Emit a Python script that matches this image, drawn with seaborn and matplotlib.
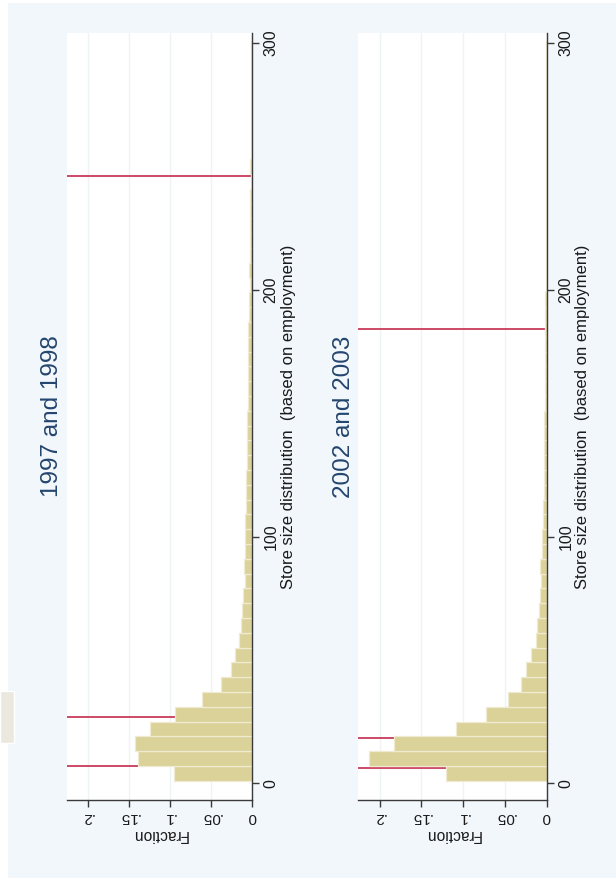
import numpy as np
import pandas as pd
import matplotlib
matplotlib.use("Agg")
import matplotlib.pyplot as plt
import seaborn as sns
from matplotlib.patches import Rectangle

# ---- data -------------------------------------------------------------
# Store-size histogram: bins of 6 employees starting at 1
bin_start = 1
bin_width = 6

frac_1997_98 = [0.095, 0.139, 0.142, 0.124, 0.094, 0.061, 0.037, 0.025, 0.020, 0.015,
                0.0135, 0.0115, 0.011, 0.008, 0.0095, 0.008, 0.008, 0.008, 0.007, 0.007,
                0.0065, 0.006, 0.006, 0.0055, 0.006, 0.005, 0.005, 0.0045, 0.005, 0.0045,
                0.004, 0.003, 0.003, 0.0025, 0.003, 0.0025, 0.002, 0.002, 0.0015, 0.0015,
                0.001, 0.0015, 0.001, 0.001, 0.001, 0.0008, 0.001, 0.0008, 0.0008, 0.001]

frac_2002_03 = [0.121, 0.2125, 0.183, 0.109, 0.073, 0.046, 0.030, 0.024, 0.018, 0.0123,
                0.011, 0.009, 0.0078, 0.007, 0.0078, 0.0057, 0.005, 0.0037, 0.0037, 0.0035,
                0.003, 0.003, 0.0028, 0.0025, 0.0025, 0.002, 0.002, 0.0022, 0.0018, 0.0015,
                0.0015, 0.0012, 0.0012, 0.001, 0.001, 0.0008, 0.0008, 0.0007, 0.0007, 0.0006,
                0.0005, 0.0005, 0.0004, 0.0004, 0.0003, 0.0003, 0.0003, 0.0002, 0.0002, 0.0003]

# reference lines (store size)
marks_1997_98 = [7, 27, 246]
marks_2002_03 = [6, 18.5, 184]

panel_titles = ["1997 and 1998", "2002 and 2003"]
size_ticks = [0, 100, 200, 300]
frac_ticks = [0, 0.05, 0.1, 0.15, 0.2]
frac_tick_labels = ["0", ".05", ".1", ".15", ".2"]
size_label = "Store size distribution  (based on employment)"
frac_label = "Fraction"

# ---- style ------------------------------------------------------------
sns.set_style("white")
plt.rcParams["font.family"] = ["Liberation Sans", "DejaVu Sans"]

BAR = "#dbd29a"
BAR_EDGE = "#f0ebd0"
RED = "#c93a5c"
AXIS = "#3a3a3a"
TITLE = "#24456e"
REGION = "#f1f7fb"

W, H = 616, 882
fig = plt.figure(figsize=(W / 100, H / 100), dpi=100)
fig.patch.set_facecolor("white")

# graph region
fig.patches.append(Rectangle((8.3 / W, 1 - 878 / H), 1 - 8.3 / W, 875 / H,
                             transform=fig.transFigure, facecolor=REGION,
                             edgecolor="none", zorder=-10))
fig.patches.append(Rectangle((0, 1 - 743 / H), 14 / W, 52 / H,
                             transform=fig.transFigure, facecolor="#ebe8de",
                             edgecolor="white", linewidth=1, zorder=-9))

panels = [
    (frac_1997_98, marks_1997_98, panel_titles[0], 66.7, 251.7, 52),
    (frac_2002_03, marks_2002_03, panel_titles[1], 358.3, 546.5, 343.5),
]

top_px, bot_px = 33.3, 800.0

for fracs, marks, title, x0, x1, tx in panels:
    ax = fig.add_axes([x0 / W, 1 - bot_px / H, (x1 - x0) / W, (bot_px - top_px) / H])
    ax.set_facecolor("white")
    n = len(fracs)
    df = pd.DataFrame({"size": bin_start + bin_width * (np.arange(n) + 0.5),
                       "frac": fracs})
    sns.histplot(data=df, y="size", weights="frac", binwidth=bin_width,
                 binrange=(bin_start, bin_start + bin_width * n), stat="count", ax=ax,
                 color=BAR, edgecolor=BAR_EDGE, linewidth=0.9, alpha=1)
    for m in marks:
        ax.axhline(m, color=RED, lw=1.3, zorder=0.8)

    ax.set_xlim(0.2256, 0)
    ax.set_ylim(-6.8, 304)
    ax.set_axisbelow(True)
    ax.grid(axis="x", color="#eef3f4", lw=1)
    ax.grid(axis="y", visible=False)

    for s in ("left", "top"):
        ax.spines[s].set_visible(False)
    for s in ("right", "bottom"):
        ax.spines[s].set_color(AXIS)
        ax.spines[s].set_linewidth(1.0)

    ax.yaxis.tick_right()
    ax.yaxis.set_label_position("right")
    ax.set_yticks(size_ticks)
    ax.set_yticklabels([str(v) for v in size_ticks])
    ax.set_xticks(frac_ticks)
    ax.set_xticklabels(frac_tick_labels)
    ax.tick_params(axis="both", direction="out", length=5, width=1, color=AXIS,
                   labelcolor="#1a1a1a")
    ax.tick_params(axis="y", labelrotation=90, pad=3.5, labelsize=11.5,
                   right=True, left=False)
    ax.tick_params(axis="x", labelrotation=180, pad=2, labelsize=11,
                   bottom=True, top=False)
    for lbl in ax.get_yticklabels():
        lbl.set_va("center")
    ax.set_xlabel(frac_label, rotation=180, fontsize=11.2, labelpad=2, color="#1a1a1a")
    ax.set_ylabel(size_label, rotation=90, fontsize=12, labelpad=1.5, color="#1a1a1a")

    fig.text(tx / W, 1 - 416.5 / H, title, rotation=90, ha="center", va="center",
             fontsize=17.5, color=TITLE)

fig.savefig("out.png", dpi=100, facecolor=fig.get_facecolor())
